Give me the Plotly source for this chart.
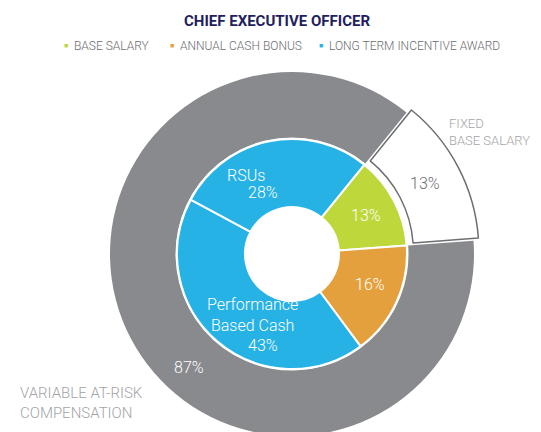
import math
import plotly.graph_objects as go

# ---- data ----
title_text = "CHIEF EXECUTIVE OFFICER"
legend_labels = ["BASE SALARY", "ANNUAL CASH BONUS", "LONG TERM INCENTIVE AWARD"]
outer_labels = ["FIXED<br>BASE SALARY", "VARIABLE AT-RISK<br>COMPENSATION"]
outer_values = [13, 87]
inner_labels = ["Base Salary", "Annual Cash Bonus", "Performance<br>Based Cash", "RSUs"]
inner_values = [13, 16, 43, 28]

# ---- style ----
W, H = 541, 432
GREEN = "#BED73B"
ORANGE = "#E4A03C"
BLUE = "#27B2E6"
GRAY = "#898A8E"
TXT_GRAY = "#6D6E71"
LIGHT_GRAY = "#A3A4A7"
NAVY = "#231E5E"
FONT = "Roboto, Liberation Sans, sans-serif"
legend_colors = [GREEN, ORANGE, BLUE]
inner_colors = [GREEN, ORANGE, BLUE, BLUE]

CX, CY = 284, 246          # pie centre (pixels, from top-left)
R_OUT, R_IN, R_HOLE = 182, 115, 47
PULL = 5.5                 # px offset of the exploded slice
ROT = 39


def dom(cx, cy, r):
    return dict(x=[(cx - r) / W, (cx + r) / W],
                y=[(H - cy - r) / H, (H - cy + r) / H])


bis = math.radians(ROT + outer_values[0] * 3.6 / 2)
ex_cx = CX + PULL * math.sin(bis)
ex_cy = CY - PULL * math.cos(bis)

fig = go.Figure()

# outer ring: variable (gray) part
fig.add_trace(go.Pie(
    labels=outer_labels, values=outer_values, sort=False, direction="clockwise",
    rotation=ROT, hole=(R_IN + 1.5) / R_OUT, domain=dom(CX, CY, R_OUT),
    marker=dict(colors=["rgba(0,0,0,0)", GRAY], line=dict(width=0)),
    textinfo="none", hoverinfo="skip", showlegend=False,
))
# outer ring: exploded fixed slice
fig.add_trace(go.Pie(
    labels=outer_labels, values=outer_values, sort=False, direction="clockwise",
    rotation=ROT, hole=(R_IN + 1.5) / R_OUT, domain=dom(ex_cx, ex_cy, R_OUT),
    marker=dict(colors=["white", "rgba(0,0,0,0)"],
                line=dict(color=[TXT_GRAY, "rgba(0,0,0,0)"], width=[1.5, 0])),
    textinfo="none", hoverinfo="skip", showlegend=False,
))
# inner ring
fig.add_trace(go.Pie(
    labels=inner_labels, values=inner_values, sort=False, direction="clockwise",
    rotation=ROT, hole=R_HOLE / R_IN, domain=dom(CX, CY, R_IN),
    marker=dict(colors=inner_colors, line=dict(color="white", width=2)),
    textinfo="none", hoverinfo="skip", showlegend=False,
))


def px(x):
    return x / W


def py(y):
    return 1 - y / H


ann = []


def add(text, x, y, size, color, xanchor="center", align="center", weight=300):
    ann.append(dict(text=text, x=px(x), y=py(y), xref="paper", yref="paper",
                    showarrow=False, xanchor=xanchor, yanchor="middle", align=align,
                    font=dict(family=FONT, size=size, color=color, weight=weight)))


# title
ann.append(dict(text="<b>" + title_text + "</b>", x=px(269), y=py(13), xref="paper", yref="paper",
                showarrow=False, xanchor="center", yanchor="middle",
                font=dict(family=FONT, size=15, color=NAVY)))

# legend
leg_marker_x = [58, 164, 313]
for lab, col, mx in zip(legend_labels, legend_colors, leg_marker_x):
    add("■", mx, 37.5, 7, col, weight=400)
    add(lab, mx + 6, 38, 12, TXT_GRAY, xanchor="left", align="left")

# slice labels
add(f"{inner_values[0]}%", 358, 208, 16, "white")
add(f"{inner_values[1]}%", 361.5, 276, 16, "white")
add(inner_labels[2], 244, 306.5, 16, "white")
add(f"{inner_values[2]}%", 255, 337.5, 16, "white")
add(inner_labels[3], 238.5, 167, 16, "white")
add(f"{inner_values[3]}%", 255, 185, 16, "white")
add(f"{outer_values[0]}%", 416.5, 175, 16, TXT_GRAY)
add(f"{outer_values[1]}%", 181, 359, 16, "white")
add(outer_labels[0], 439, 124.5, 13, LIGHT_GRAY, xanchor="left", align="left")
add(outer_labels[1], 10, 395, 15, LIGHT_GRAY, xanchor="left", align="left")

fig.update_layout(
    width=W, height=H, margin=dict(l=0, r=0, t=0, b=0),
    paper_bgcolor="white", plot_bgcolor="white",
    annotations=ann,
)

fig.write_html("out.html")
